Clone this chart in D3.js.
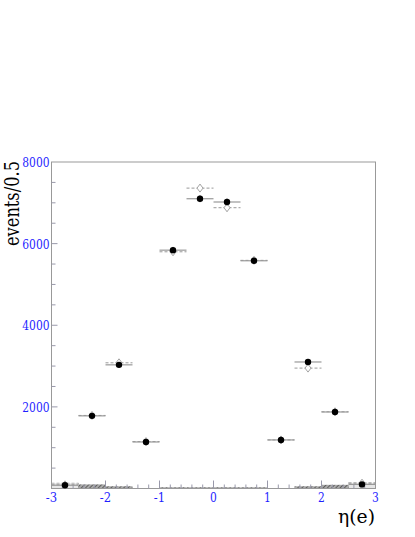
<!DOCTYPE html>
<html>
<meta charset="utf-8">
<head>
  <script src="https://d3js.org/d3.v7.min.js"></script>
  <style>
    body { margin: 0; background: #fff; }
  </style>
</head>
<body>
<div id="chart"></div>
<script>
  // bin centres, eta(e), width 0.5
  var binCenters = [-2.75, -2.25, -1.75, -1.25, -0.75, -0.25, 0.25, 0.75, 1.25, 1.75, 2.25, 2.75];
  // data (filled circles)
  var dataVals = [80, 1780, 3030, 1140, 5840, 7100, 7020, 5580, 1190, 3100, 1875, 100];
  var dataErr = [20, 45, 60, 35, 80, 85, 85, 75, 35, 60, 45, 20];
  // simulation (open diamonds)
  var mcVals = [90, 1790, 3080, 1150, 5800, 7360, 6880, 5590, 1190, 2950, 1880, 130];
  var mcErr = [25, 45, 60, 35, 80, 90, 90, 80, 35, 60, 45, 25];
  // background (hatched) and outer-bin light histogram
  var bkgVals = [0, 100, 55, 0, 30, 30, 30, 30, 0, 55, 90, 0];
  var outerVals = [130, 0, 0, 0, 0, 0, 0, 0, 0, 0, 0, 140];
  var xTicks = [-3, -2, -1, 0, 1, 2, 3];
  var yTicks = [2000, 4000, 6000, 8000];

  var width = 415, height = 537,
    halfBin = 0.25,
    serif = "DejaVu Serif";

  var x = d3.scaleLinear().domain([-3, 3]).range([51.5, 375.5]),
    y = d3.scaleLinear().domain([0, 8000]).range([488.5, 162]);

  var svg = d3.select("#chart").append("svg")
    .attr("width", width).attr("height", height);

  // label width as Times would set it (DejaVu Serif runs wider)
  function labelLen(s) {
    var n = 0;
    String(s).split("").forEach(function (ch) { n += (ch === "-" ? 4.5 : 6.8); });
    return n;
  }

  var defs = svg.append("defs");
  var pat = defs.append("pattern").attr("id", "hatch")
    .attr("patternUnits", "userSpaceOnUse").attr("width", 3).attr("height", 3)
    .attr("patternTransform", "rotate(45)");
  pat.append("rect").attr("width", 3).attr("height", 3).attr("fill", "#aaa");
  pat.append("line").attr("x1", 0).attr("y1", 0).attr("x2", 0).attr("y2", 3)
    .attr("stroke", "#444").attr("stroke-width", 1.5);

  // light histogram in outer bins
  svg.selectAll("rect.outer")
    .data(binCenters.map(function (c, i) { return {c: c, v: outerVals[i]}; }).filter(function (d) { return d.v > 0; }))
    .enter().append("rect")
    .attr("class", "outer")
    .attr("x", function (d) { return x(d.c - halfBin); })
    .attr("width", function (d) { return x(d.c + halfBin) - x(d.c - halfBin); })
    .attr("y", function (d) { return y(d.v); })
    .attr("height", function (d) { return y(0) - y(d.v); })
    .attr("fill", "#e6e6e6")
    .attr("stroke", "#999").attr("stroke-width", 0.7).attr("stroke-dasharray", "3,2");

  // hatched background histogram
  svg.selectAll("rect.bkg")
    .data(binCenters.map(function (c, i) { return {c: c, v: bkgVals[i]}; }).filter(function (d) { return d.v > 0; }))
    .enter().append("rect")
    .attr("class", "bkg")
    .attr("x", function (d) { return x(d.c - halfBin); })
    .attr("width", function (d) { return x(d.c + halfBin) - x(d.c - halfBin); })
    .attr("y", function (d) { return y(d.v); })
    .attr("height", function (d) { return y(0) - y(d.v); })
    .attr("fill", "url(#hatch)");

  // frame
  svg.append("rect")
    .attr("x", x(-3)).attr("y", y(8000))
    .attr("width", x(3) - x(-3)).attr("height", y(0) - y(8000))
    .attr("fill", "none").attr("stroke", "#999").attr("stroke-width", 1);

  // y axis ticks (inside) and labels
  var yMinor = d3.range(500, 8000, 500);
  svg.selectAll("line.ytick").data(yMinor).enter().append("line")
    .attr("x1", x(-3)).attr("x2", function (d) { return x(-3) + (d % 2000 === 0 ? 6 : 4); })
    .attr("y1", function (d) { return y(d); }).attr("y2", function (d) { return y(d); })
    .attr("stroke", "#99a").attr("stroke-width", 1);
  svg.selectAll("text.ylab").data(yTicks).enter().append("text")
    .attr("x", x(-3) - 2).attr("y", function (d) { return y(d) + 5; })
    .attr("text-anchor", "end").attr("fill", "#1f1fff").attr("font-size", 13.5)
    .attr("font-family", serif)
    .attr("textLength", labelLen).attr("lengthAdjust", "spacingAndGlyphs")
    .text(function (d) { return d; });

  // x axis ticks (inside) and labels
  var xMinor = d3.range(-2.8, 2.9, 0.2);
  svg.selectAll("line.xtick").data(xMinor).enter().append("line")
    .attr("x1", function (d) { return x(d); }).attr("x2", function (d) { return x(d); })
    .attr("y1", y(0)).attr("y2", function (d) { return y(0) - (Math.abs(d - Math.round(d)) < 0.01 ? 8 : 4); })
    .attr("stroke", "#99a").attr("stroke-width", 1);
  svg.selectAll("text.xlab").data(xTicks).enter().append("text")
    .attr("x", function (d) { return x(d); }).attr("y", 502)
    .attr("text-anchor", "middle").attr("fill", "#1f1fff").attr("font-size", 13)
    .attr("font-family", serif)
    .attr("textLength", labelLen).attr("lengthAdjust", "spacingAndGlyphs")
    .text(function (d) { return d; });

  // axis titles
  svg.append("text")
    .attr("transform", "translate(19,161) rotate(-90)")
    .attr("text-anchor", "end").attr("font-size", 20).attr("fill", "#000")
    .attr("font-family", serif)
    .attr("textLength", 85).attr("lengthAdjust", "spacingAndGlyphs")
    .text("events/0.5");
  svg.append("text")
    .attr("x", 375).attr("y", 523)
    .attr("text-anchor", "end").attr("font-size", 18).attr("fill", "#000")
    .attr("font-family", serif)
    .attr("textLength", 37).attr("lengthAdjust", "spacingAndGlyphs")
    .text("η(e)");

  // simulation: dashed error bars + open diamonds
  var mc = binCenters.map(function (c, i) { return {c: c, v: mcVals[i], e: mcErr[i]}; });
  var mcG = svg.append("g");
  mcG.selectAll("line.mch").data(mc).enter().append("line")
    .attr("x1", function (d) { return x(d.c - halfBin); })
    .attr("x2", function (d) { return x(d.c + halfBin); })
    .attr("y1", function (d) { return y(d.v); }).attr("y2", function (d) { return y(d.v); })
    .attr("stroke", "#999").attr("stroke-width", 1).attr("stroke-dasharray", "3,2");
  mcG.selectAll("line.mcv").data(mc).enter().append("line")
    .attr("x1", function (d) { return x(d.c); }).attr("x2", function (d) { return x(d.c); })
    .attr("y1", function (d) { return y(d.v - d.e); }).attr("y2", function (d) { return y(d.v + d.e); })
    .attr("stroke", "#aaa").attr("stroke-width", 1);
  mcG.selectAll("path.dia").data(mc).enter().append("path")
    .attr("d", function (d) {
      var cx = x(d.c), cy = y(d.v);
      return "M" + cx + "," + (cy - 4) + "L" + (cx + 3) + "," + cy + "L" + cx + "," + (cy + 4) + "L" + (cx - 3) + "," + cy + "Z";
    })
    .attr("fill", "#fff").attr("stroke", "#999").attr("stroke-width", 0.9);

  // data: solid error bars + filled circles
  var dt = binCenters.map(function (c, i) { return {c: c, v: dataVals[i], e: dataErr[i]}; });
  var dG = svg.append("g");
  dG.selectAll("line.dh").data(dt).enter().append("line")
    .attr("x1", function (d) { return x(d.c - halfBin); })
    .attr("x2", function (d) { return x(d.c + halfBin); })
    .attr("y1", function (d) { return y(d.v); }).attr("y2", function (d) { return y(d.v); })
    .attr("stroke", "#999").attr("stroke-width", 1.2);
  dG.selectAll("line.dv").data(dt).enter().append("line")
    .attr("x1", function (d) { return x(d.c); }).attr("x2", function (d) { return x(d.c); })
    .attr("y1", function (d) { return y(d.v - d.e); }).attr("y2", function (d) { return y(d.v + d.e); })
    .attr("stroke", "#777").attr("stroke-width", 1);
  dG.selectAll("circle").data(dt).enter().append("circle")
    .attr("cx", function (d) { return x(d.c); }).attr("cy", function (d) { return y(d.v); })
    .attr("r", 3.2).attr("fill", "#000");
</script>
</body>
</html>
